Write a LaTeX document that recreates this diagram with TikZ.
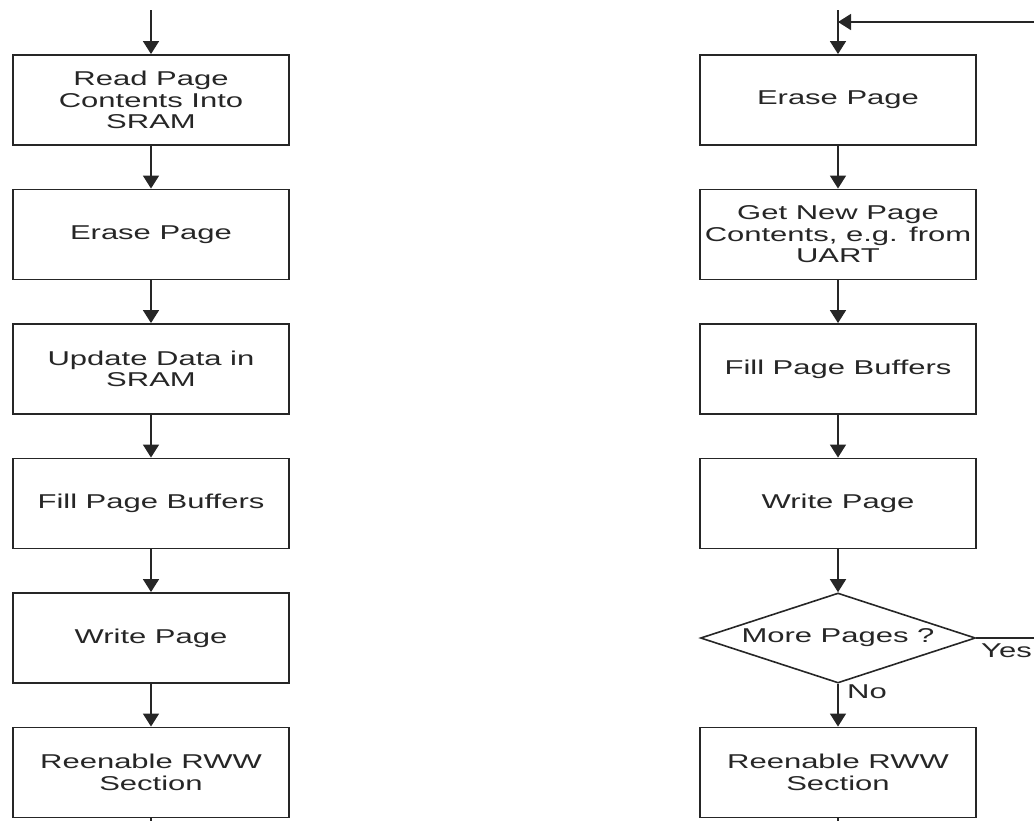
\documentclass[tikz,border=0pt]{standalone}
\usepackage{fontspec}
\newfontfamily\flowfont[FakeStretch=1.55]{Liberation Sans}
\usetikzlibrary{shapes.geometric,arrows.meta}
\definecolor{ink}{HTML}{262626}
\begin{document}
\begin{tikzpicture}[x=1pt,y=-1pt,
  every node/.style={font=\flowfont\fontsize{20}{21.5}\selectfont, text=ink},
  stepbox/.style={draw=ink, line width=1.9pt, rectangle, minimum width=276pt, minimum height=90pt, inner sep=0pt, align=center},
  decbox/.style={draw=ink, line width=1.6pt, diamond, aspect=3.06, minimum width=275pt, minimum height=90pt, inner sep=0pt, align=center},
  flow/.style={draw=ink, line width=1.6pt, -{Triangle[width=16pt,length=13pt]}},
  plain/.style={draw=ink, line width=1.6pt},
  lbl/.style={anchor=base west, inner sep=0pt}
]
\useasboundingbox (0,0) rectangle (1034,820);

% Left column
\coordinate (ltop) at (151,10);
\node[stepbox] (l1) at (151,100) {Read Page\\Contents Into\\SRAM};
\node[stepbox] (l2) at (151,234.5) {Erase Page};
\node[stepbox] (l3) at (151,369) {Update Data in\\SRAM};
\node[stepbox] (l4) at (151,503.5) {Fill Page Buffers};
\node[stepbox] (l5) at (151,638) {Write Page};
\node[stepbox] (l6) at (151,772.5) {Reenable RWW\\Section};
\coordinate (lbot) at (151,822);

\draw[flow] (ltop) -- (l1);
\draw[flow] (l1) -- (l2);
\draw[flow] (l2) -- (l3);
\draw[flow] (l3) -- (l4);
\draw[flow] (l4) -- (l5);
\draw[flow] (l5) -- (l6);
\draw[plain] (l6) -- (lbot);

% Right column
\coordinate (rtop) at (838,10);
\coordinate (rjoin) at (838,22);
\coordinate (loopin) at (1036,22);
\node[stepbox] (r1) at (838,100) {Erase Page};
\node[stepbox] (r2) at (838,234.5) {Get New Page\\Contents, e.g. from\\UART};
\node[stepbox] (r3) at (838,369) {Fill Page Buffers};
\node[stepbox] (r4) at (838,503.5) {Write Page};
\node[decbox] (r5) at (838,638) {More Pages ?};
\node[stepbox] (r6) at (838,772.5) {Reenable RWW\\Section};
\coordinate (rbot) at (838,822);
\coordinate (yesend) at (1036,638);

\draw[flow] (rtop) -- (r1);
\draw[flow] (loopin) -- (rjoin);
\draw[flow] (r1) -- (r2);
\draw[flow] (r2) -- (r3);
\draw[flow] (r3) -- (r4);
\draw[flow] (r4) -- (r5);
\draw[flow] (r5) -- (r6);
\draw[plain] (r5.east) -- (yesend);
\draw[plain] (r6) -- (rbot);

\node[lbl] (yes) at (981,657) {Yes};
\node[lbl] (no) at (847,698) {No};
\end{tikzpicture}
\end{document}
